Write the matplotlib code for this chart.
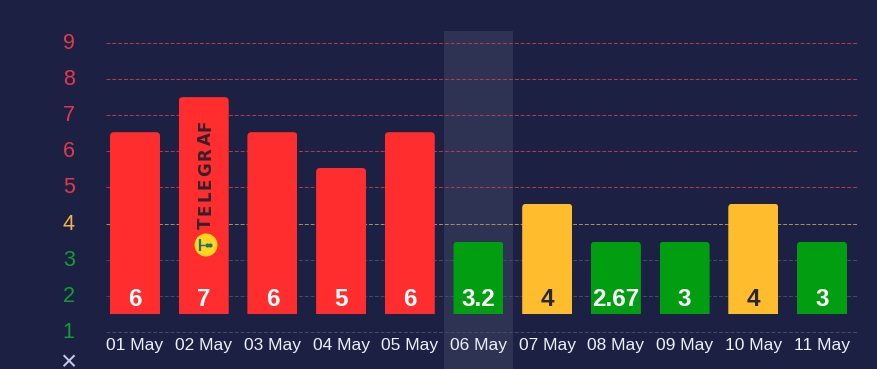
import matplotlib
matplotlib.use('Agg')
import matplotlib.pyplot as plt
from matplotlib.patches import Circle, FancyBboxPatch
from matplotlib.transforms import IdentityTransform, ScaledTranslation

days = ['01 May', '02 May', '03 May', '04 May', '05 May', '06 May',
        '07 May', '08 May', '09 May', '10 May', '11 May']
bar_bottom = 1.5
bar_top = [6.53, 7.5, 6.53, 5.54, 6.53, 3.5, 4.55, 3.5, 3.5, 4.55, 3.5]
value_labels = ['6', '7', '6', '5', '6', '3.2', '4', '2.67', '3', '4', '3']
levels = [1, 2, 3, 4, 5, 6, 7, 8, 9]

BG = '#1c2144'
RED = '#ff2d2d'
GREEN = '#009e10'
YELLOW = '#ffbd2e'
DARK = '#27273a'


def bar_style(top):
    if top >= 5:
        return RED, 'white'
    if top >= 4:
        return YELLOW, DARK
    return GREEN, 'white'


def level_color(level):
    if level >= 5:
        return '#e5394a', '#b83a50'
    if level == 4:
        return '#f2b544', '#a89468'
    return '#10a030', '#474b69'


W, H = 877, 369
plt.rcParams['font.family'] = ['Liberation Sans', 'DejaVu Sans']
fig = plt.figure(figsize=(W / 100, H / 100), dpi=100, facecolor=BG)
ax = fig.add_axes([106 / W, (H - 332) / H, (858 - 106) / W, (332 - 31) / H], facecolor=BG)
ax.set_xlim(-0.422, 10.524)
ax.set_ylim(1, 9.33)
for s in ax.spines.values():
    s.set_visible(False)

# highlighted day runs off the bottom of the picture
ax.axvspan(4.5, 5.5, ymin=-0.13, ymax=1, color='#2e3253', lw=0, clip_on=False, zorder=1)

for level in levels:
    ax.axhline(level, color=level_color(level)[1], lw=0.7, ls=(0, (4, 2)), zorder=2, clip_on=False)

x = list(range(len(days)))
heights = [t - bar_bottom for t in bar_top]
bars = ax.bar(x, heights, width=50 / 68.7, bottom=bar_bottom,
              color=[bar_style(t)[0] for t in bar_top], zorder=3)

# rounded top corners only, the bottom stays square
aspect = 68.7 / 36.125
for rect in bars:
    rounded = FancyBboxPatch((rect.get_x(), rect.get_y() - 1), rect.get_width(), rect.get_height() + 1,
                             boxstyle='round,pad=0,rounding_size=0.06', mutation_aspect=aspect,
                             transform=ax.transData, fc='none', ec='none')
    ax.add_patch(rounded)
    rect.set_clip_path(rounded)

for i, label in enumerate(value_labels):
    ax.text(i, 1.72, label, ha='center', va='baseline', fontsize=17.5, fontweight='bold',
            color=bar_style(bar_top[i])[1], zorder=4)

ax.set_xticks(x, days)
ax.set_yticks(levels, [str(v) for v in levels])
ax.tick_params(axis='both', length=0)
ax.tick_params(axis='x', pad=4, labelsize=12.5, labelcolor='#eef0f8')
ax.tick_params(axis='y', pad=22.5, labelsize=15.5)
up = ScaledTranslation(0, 1.5 / 72, fig.dpi_scale_trans)
for tick, level in zip(ax.get_yticklabels(), levels):
    tick.set_color(level_color(level)[0])
    tick.set_transform(tick.get_transform() + up)

pix = IdentityTransform()
fig.text(68 / W, (H - 363.5) / H, '\u00d7', color='#c9c8ec', fontsize=20, ha='center', va='center')

# watermark on the 02 May bar
for ch, py in zip('TELEGRAF', [223, 209, 196, 183, 169, 154, 139, 125]):
    ax.text(206, H - py, ch, transform=pix, rotation=90, ha='center', va='center',
            family='DejaVu Sans', fontweight='bold', fontsize=12, color='#33202e', zorder=5)
ax.add_patch(Circle((206, H - 245), 11.5, transform=pix, fc='#ffd51e', ec='none', zorder=5))
ax.plot([200, 200], [H - 239, H - 251], transform=pix, color='#1f6f80', lw=1.6, zorder=6, solid_capstyle='butt')
ax.plot([200, 205], [H - 245, H - 245], transform=pix, color='#1f6f80', lw=1, zorder=6, solid_capstyle='butt')
ax.plot([210], [H - 245], 'o', transform=pix, color='#1f6f80', ms=2, zorder=6)
ax.plot([206.5], [H - 245], 'o', transform=pix, color='#1f6f80', ms=2, zorder=6)

fig.savefig('out.png', dpi=100, facecolor=BG)
